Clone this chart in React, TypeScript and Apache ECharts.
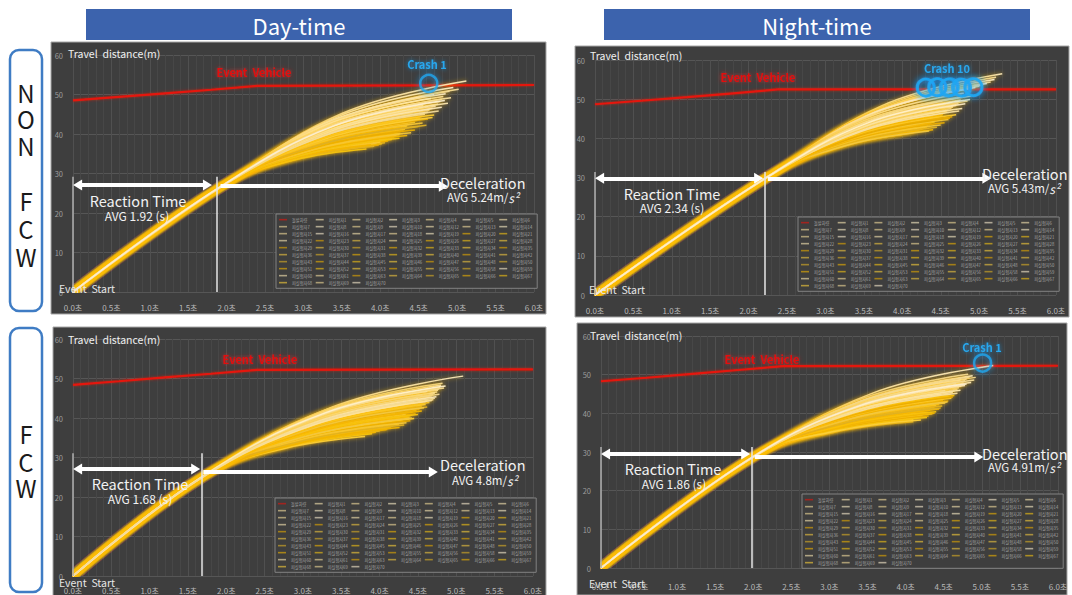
import { useEffect, useRef } from 'react';
import * as echarts from 'echarts';

const FONT = "'Noto Sans CJK KR', 'Noto Sans', sans-serif";

const EVENT_VEHICLE_NAME = '돌발차량';
const SUBJECT_PREFIX = '피실험자';
const X_UNIT = '초';
const SUBJECT_IDS = [1, 2, 3, 4, 5, 6, 7, 8, 9, 10, 12, 13, 14, 15, 16, 17, 18, 19, 20, 21, 22, 23, 24, 25, 26, 27, 28, 29, 30, 31, 32, 33, 34, 35, 36, 37, 38, 39, 40, 41, 42, 43, 44, 45, 46, 47, 48, 50, 51, 52, 53, 55, 56, 58, 59, 60, 61, 63, 64, 65, 66, 67, 68, 69, 70];

const HEADERS = ['Day-time', 'Night-time'];
const ROW_LABEL_NON_FCW = ['N', 'O', 'N', 'F', 'C', 'W'];
const ROW_LABEL_FCW = ['F', 'C', 'W'];

// event vehicle travel distance [time s, distance m]
const DAY_NON_EVENT = [[0, 48.5], [0.6, 49.4], [1.2, 50.3], [1.8, 51.2], [2.4, 52.2], [6.0, 52.4]];
const NIGHT_NON_EVENT = [[0, 48.7], [0.6, 49.6], [1.2, 50.5], [1.8, 51.5], [2.38, 52.5], [6.0, 52.5]];
const DAY_FCW_EVENT = [[0, 48.4], [0.6, 49.3], [1.2, 50.3], [1.8, 51.2], [2.4, 52.2], [6.0, 52.3]];
const NIGHT_FCW_EVENT = [[0, 48.3], [0.6, 49.2], [1.2, 50.2], [1.8, 51.2], [2.39, 52.2], [6.0, 52.3]];

// crash points [time, distance]
const DAY_NON_CRASH = [[4.63, 52.8]];
const NIGHT_NON_CRASH = [[4.3, 53.0], [4.31, 52.9], [4.45, 53.1], [4.46, 53.0], [4.6, 52.9], [4.62, 53.1], [4.76, 53.0], [4.78, 52.9], [4.92, 53.1], [4.93, 53.0]];
const DAY_FCW_CRASH: number[][] = [];
const NIGHT_FCW_CRASH = [[5.01, 53.0]];

// subject rows: [reaction t, reaction d, mid t, mid d, stop t, stop d]; each starts at (0, 0)
const DAY_NON_SUBJECTS = [
  [1.88, 26.0, 3.50, 45.2, 5.12, 53.4], [1.92, 26.6, 3.47, 43.9, 5.02, 51.3], [1.95, 27.0, 3.45, 44.4, 4.95, 51.8],
  [1.90, 26.3, 3.40, 43.5, 4.90, 50.8], [1.93, 26.8, 3.39, 43.2, 4.85, 50.2], [1.88, 26.0, 3.35, 42.5, 4.82, 49.5],
  [1.92, 26.6, 3.36, 42.1, 4.80, 48.8], [1.95, 27.0, 3.37, 41.8, 4.78, 48.2], [1.90, 26.3, 3.33, 41.2, 4.75, 47.6],
  [1.93, 26.8, 3.33, 40.9, 4.72, 47.0], [1.88, 26.0, 3.29, 42.8, 4.70, 50.0], [1.92, 26.6, 3.30, 40.5, 4.68, 46.5],
  [1.95, 27.0, 3.31, 42.4, 4.66, 49.0], [1.90, 26.3, 3.27, 40.1, 4.64, 46.0], [1.93, 26.8, 3.28, 39.9, 4.62, 45.5],
  [1.88, 26.0, 3.24, 41.4, 4.60, 48.0], [1.92, 26.6, 3.25, 39.5, 4.58, 45.0], [1.95, 27.0, 3.26, 41.1, 4.56, 47.2],
  [1.90, 26.3, 3.23, 39.0, 4.55, 44.5], [1.93, 26.8, 3.23, 38.8, 4.52, 44.0], [1.88, 26.0, 3.19, 40.1, 4.50, 46.2],
  [1.92, 26.6, 3.20, 38.4, 4.48, 43.5], [1.95, 27.0, 3.20, 38.2, 4.45, 43.0], [1.90, 26.3, 3.16, 39.7, 4.42, 45.4],
  [1.93, 26.8, 3.17, 37.8, 4.40, 42.5], [1.88, 26.0, 3.13, 39.0, 4.38, 44.6], [1.92, 26.6, 3.14, 37.4, 4.35, 42.0],
  [1.95, 27.0, 3.14, 37.2, 4.33, 41.5], [1.90, 26.3, 3.11, 36.7, 4.32, 41.2], [1.93, 26.8, 3.12, 36.6, 4.30, 40.8],
  [1.88, 26.0, 3.08, 36.9, 4.28, 41.6], [1.92, 26.6, 3.09, 36.1, 4.26, 40.2], [1.95, 27.0, 3.10, 36.0, 4.25, 39.8],
  [1.90, 26.3, 3.06, 36.2, 4.22, 40.5], [1.93, 26.8, 3.07, 35.6, 4.20, 39.4], [1.88, 26.0, 3.03, 35.1, 4.18, 39.0],
  [1.92, 26.6, 3.04, 36.0, 4.16, 40.0], [1.95, 27.0, 3.05, 35.1, 4.15, 38.6], [1.90, 26.3, 3.01, 35.3, 4.12, 39.2],
  [1.93, 26.8, 3.02, 34.8, 4.10, 38.2], [1.88, 26.0, 2.98, 35.0, 4.08, 38.8], [1.92, 26.6, 2.99, 34.4, 4.06, 37.8],
  [1.95, 27.0, 3.00, 35.0, 4.04, 38.4], [1.90, 26.3, 2.96, 34.1, 4.02, 37.5], [1.93, 26.8, 2.97, 34.6, 4.00, 38.0],
  [1.88, 26.0, 2.93, 33.8, 3.98, 37.2], [1.92, 26.6, 2.94, 34.4, 3.95, 37.7], [1.95, 27.0, 2.94, 33.9, 3.92, 36.9],
  [1.90, 26.3, 2.89, 34.0, 3.88, 37.3], [1.93, 26.8, 2.88, 33.4, 3.82, 36.2], [1.88, 26.0, 3.29, 39.2, 4.70, 44.8],
  [1.92, 26.6, 3.27, 38.6, 4.62, 43.8], [1.95, 27.0, 3.25, 38.1, 4.55, 42.8], [1.90, 26.3, 3.20, 37.2, 4.50, 41.9],
  [1.93, 26.8, 3.37, 40.8, 4.80, 46.8], [1.88, 26.0, 3.38, 41.3, 4.88, 47.8], [1.92, 26.6, 3.42, 42.4, 4.92, 49.2],
  [1.95, 27.0, 3.20, 36.8, 4.45, 41.0], [1.90, 26.3, 3.15, 36.1, 4.40, 40.3], [1.93, 26.8, 3.27, 37.6, 4.60, 42.2],
  [1.88, 26.0, 3.12, 35.5, 4.35, 39.6], [1.92, 26.6, 3.09, 35.2, 4.25, 38.9], [1.95, 27.0, 3.32, 39.0, 4.68, 44.2],
  [1.90, 26.3, 3.33, 40.0, 4.76, 45.8], [1.93, 26.8, 3.39, 42.0, 4.84, 48.5],
];

const NIGHT_NON_SUBJECTS = [
  [2.16, 29.0, 3.73, 48.3, 5.30, 56.5], [2.20, 29.6, 3.71, 47.8, 5.22, 55.6], [2.24, 30.1, 3.72, 47.5, 5.20, 55.0],
  [2.18, 29.3, 3.67, 46.9, 5.15, 54.4], [2.22, 29.9, 3.66, 46.8, 5.10, 54.0], [2.16, 29.0, 3.61, 46.2, 5.05, 53.6],
  [2.20, 29.6, 3.60, 46.2, 5.00, 53.3], [2.24, 30.1, 3.60, 46.1, 4.95, 53.0], [2.18, 29.3, 3.54, 45.8, 4.90, 52.8],
  [2.22, 29.9, 3.54, 45.8, 4.85, 52.6], [2.16, 29.0, 3.48, 44.8, 4.80, 51.5], [2.20, 29.6, 3.49, 44.3, 4.78, 50.6],
  [2.24, 30.1, 3.50, 43.9, 4.76, 49.8], [2.18, 29.3, 3.47, 43.2, 4.75, 49.2], [2.22, 29.9, 3.48, 43.1, 4.73, 48.8],
  [2.16, 29.0, 3.43, 42.6, 4.70, 48.4], [2.20, 29.6, 3.44, 44.0, 4.68, 50.2], [2.24, 30.1, 3.45, 42.6, 4.66, 48.0],
  [2.18, 29.3, 3.41, 42.1, 4.64, 47.6], [2.22, 29.9, 3.42, 43.3, 4.62, 49.0], [2.16, 29.0, 3.38, 41.7, 4.60, 47.2],
  [2.20, 29.6, 3.39, 41.7, 4.58, 46.9], [2.24, 30.1, 3.40, 41.6, 4.56, 46.5], [2.18, 29.3, 3.37, 42.5, 4.55, 48.2],
  [2.22, 29.9, 3.38, 41.2, 4.53, 46.1], [2.16, 29.0, 3.34, 40.7, 4.52, 45.7], [2.20, 29.6, 3.35, 41.8, 4.50, 47.0],
  [2.24, 30.1, 3.36, 40.7, 4.48, 45.3], [2.18, 29.3, 3.32, 40.2, 4.46, 44.9], [2.22, 29.9, 3.34, 41.5, 4.45, 46.4],
  [2.16, 29.0, 3.30, 39.9, 4.43, 44.6], [2.20, 29.6, 3.31, 39.8, 4.42, 44.2], [2.24, 30.1, 3.32, 41.1, 4.40, 45.8],
  [2.18, 29.3, 3.28, 39.5, 4.38, 43.9], [2.22, 29.9, 3.29, 39.4, 4.36, 43.5], [2.16, 29.0, 3.26, 40.2, 4.35, 45.0],
  [2.20, 29.6, 3.27, 39.1, 4.33, 43.2], [2.24, 30.1, 3.28, 39.1, 4.32, 42.9], [2.18, 29.3, 3.24, 39.9, 4.30, 44.4],
  [2.22, 29.9, 3.25, 38.8, 4.28, 42.6], [2.16, 29.0, 3.21, 38.3, 4.26, 42.3], [2.20, 29.6, 3.23, 39.5, 4.25, 43.8],
  [2.24, 30.1, 3.23, 38.4, 4.22, 42.0], [2.18, 29.3, 3.19, 38.1, 4.20, 41.8], [2.22, 29.9, 3.20, 39.1, 4.18, 43.0],
  [2.16, 29.0, 3.16, 37.8, 4.15, 41.5], [2.20, 29.6, 3.16, 38.6, 4.12, 42.4], [2.24, 30.1, 3.17, 37.9, 4.10, 41.3],
  [2.18, 29.3, 3.12, 38.0, 4.05, 41.7], [2.22, 29.9, 3.11, 37.7, 4.00, 41.0], [2.16, 29.0, 3.43, 40.9, 4.70, 46.0],
  [2.20, 29.6, 3.43, 40.7, 4.65, 45.5], [2.24, 30.1, 3.42, 40.4, 4.60, 44.8], [2.18, 29.3, 3.52, 43.4, 4.85, 49.5],
  [2.22, 29.9, 3.52, 43.1, 4.82, 48.8], [2.16, 29.0, 3.47, 42.0, 4.78, 47.6], [2.20, 29.6, 3.47, 41.8, 4.74, 47.0],
  [2.24, 30.1, 3.40, 39.8, 4.55, 44.0], [2.18, 29.3, 3.34, 39.2, 4.50, 43.4], [2.22, 29.9, 3.34, 38.9, 4.45, 42.8],
  [2.16, 29.0, 3.28, 38.2, 4.40, 42.2], [2.20, 29.6, 3.55, 44.4, 4.90, 50.8], [2.24, 30.1, 3.56, 44.0, 4.88, 49.9],
  [2.18, 29.3, 3.40, 40.4, 4.62, 45.2], [2.22, 29.9, 3.29, 38.3, 4.35, 41.9],
];

const DAY_FCW_SUBJECTS = [
  [1.64, 24.4, 3.37, 42.7, 5.09, 50.6], [1.68, 25.0, 3.25, 41.7, 4.82, 48.8], [1.71, 25.5, 3.26, 41.5, 4.80, 48.3],
  [1.66, 24.7, 3.23, 40.9, 4.79, 47.8], [1.70, 25.2, 3.24, 40.7, 4.77, 47.3], [1.64, 24.4, 3.20, 40.2, 4.76, 47.0],
  [1.68, 25.0, 3.22, 40.1, 4.75, 46.6], [1.71, 25.5, 3.22, 40.1, 4.72, 46.3], [1.66, 24.7, 3.18, 39.6, 4.70, 46.0],
  [1.70, 25.2, 3.19, 39.5, 4.68, 45.6], [1.64, 24.4, 3.15, 40.6, 4.66, 47.5], [1.68, 25.0, 3.16, 39.1, 4.64, 45.2],
  [1.71, 25.5, 3.17, 40.4, 4.62, 46.8], [1.66, 24.7, 3.13, 38.8, 4.60, 44.8], [1.70, 25.2, 3.15, 38.5, 4.60, 44.2],
  [1.64, 24.4, 3.11, 37.8, 4.58, 43.6], [1.68, 25.0, 3.12, 39.6, 4.56, 45.9], [1.71, 25.5, 3.13, 37.8, 4.55, 43.0],
  [1.66, 24.7, 3.09, 37.2, 4.52, 42.5], [1.70, 25.2, 3.10, 39.1, 4.50, 45.0], [1.64, 24.4, 3.06, 36.7, 4.48, 42.0],
  [1.68, 25.0, 3.08, 36.3, 4.47, 41.1], [1.71, 25.5, 3.08, 38.5, 4.45, 44.0], [1.66, 24.7, 3.05, 36.5, 4.43, 41.5],
  [1.70, 25.2, 3.05, 36.0, 4.40, 40.6], [1.64, 24.4, 3.02, 35.5, 4.39, 40.2], [1.68, 25.0, 3.03, 37.7, 4.38, 43.2],
  [1.71, 25.5, 3.04, 35.5, 4.36, 39.8], [1.66, 24.7, 3.00, 36.0, 4.34, 40.9], [1.70, 25.2, 3.01, 34.7, 4.31, 38.7],
  [1.64, 24.4, 2.97, 34.9, 4.30, 39.4], [1.68, 25.0, 2.98, 35.8, 4.28, 40.4], [1.71, 25.5, 2.98, 34.5, 4.25, 38.4],
  [1.66, 24.7, 2.94, 34.7, 4.22, 39.0], [1.70, 25.2, 2.95, 36.3, 4.20, 41.1], [1.64, 24.4, 2.91, 34.0, 4.18, 38.1],
  [1.68, 25.0, 2.92, 33.9, 4.15, 37.7], [1.71, 25.5, 2.92, 34.6, 4.12, 38.5], [1.66, 24.7, 2.88, 33.5, 4.10, 37.3],
  [1.70, 25.2, 2.90, 33.5, 4.09, 37.0], [1.64, 24.4, 2.85, 33.9, 4.05, 37.9], [1.68, 25.0, 2.84, 33.2, 4.00, 36.7],
  [1.71, 25.5, 2.83, 33.1, 3.95, 36.4], [1.66, 24.7, 2.78, 32.6, 3.90, 36.0], [1.70, 25.2, 2.76, 32.3, 3.81, 35.3],
  [1.64, 24.4, 3.17, 38.5, 4.70, 44.6], [1.68, 25.0, 3.17, 38.2, 4.65, 43.9], [1.71, 25.5, 3.17, 37.6, 4.62, 42.8],
  [1.66, 24.7, 3.11, 36.7, 4.55, 41.8], [1.70, 25.2, 3.10, 36.2, 4.50, 40.9], [1.64, 24.4, 3.05, 35.3, 4.45, 39.9],
  [1.68, 25.0, 3.04, 35.0, 4.40, 39.3], [1.71, 25.5, 3.03, 34.8, 4.35, 38.8], [1.66, 24.7, 3.22, 39.6, 4.78, 46.0],
  [1.70, 25.2, 3.22, 39.3, 4.74, 45.4], [1.64, 24.4, 3.16, 38.4, 4.68, 44.4], [1.68, 25.0, 3.14, 37.9, 4.60, 43.4],
  [1.71, 25.5, 3.12, 37.2, 4.52, 42.2], [1.66, 24.7, 3.04, 35.4, 4.42, 40.0], [1.70, 25.2, 3.01, 34.3, 4.32, 38.2],
  [1.64, 24.4, 2.95, 33.6, 4.26, 37.6], [1.68, 25.0, 3.26, 40.8, 4.84, 47.6], [1.71, 25.5, 3.29, 41.3, 4.86, 48.1],
  [1.66, 24.7, 3.19, 38.9, 4.72, 45.0], [1.70, 25.2, 3.14, 37.4, 4.58, 42.6],
];

const NIGHT_FCW_SUBJECTS = [
  [1.94, 27.9, 3.55, 45.1, 5.15, 52.4], [1.98, 28.5, 3.45, 43.1, 4.92, 49.3], [2.01, 29.0, 3.45, 43.5, 4.88, 49.7],
  [1.96, 28.2, 3.39, 43.5, 4.82, 50.1], [2.00, 28.8, 3.40, 42.9, 4.80, 48.9], [1.94, 27.9, 3.36, 42.3, 4.78, 48.4],
  [1.98, 28.5, 3.37, 42.1, 4.76, 47.9], [2.01, 29.0, 3.38, 41.9, 4.75, 47.4], [1.96, 28.2, 3.35, 41.4, 4.73, 47.0],
  [2.00, 28.8, 3.36, 42.7, 4.72, 48.6], [1.94, 27.9, 3.32, 41.0, 4.70, 46.6], [1.98, 28.5, 3.33, 40.9, 4.68, 46.2],
  [2.01, 29.0, 3.34, 42.2, 4.66, 47.8], [1.96, 28.2, 3.30, 40.5, 4.64, 45.8], [2.00, 28.8, 3.31, 40.4, 4.62, 45.4],
  [1.94, 27.9, 3.27, 39.8, 4.60, 44.9], [1.98, 28.5, 3.28, 41.4, 4.58, 46.9], [2.01, 29.0, 3.29, 39.9, 4.56, 44.5],
  [1.96, 28.2, 3.25, 39.3, 4.54, 44.1], [2.00, 28.8, 3.26, 40.8, 4.52, 45.9], [1.94, 27.9, 3.22, 39.0, 4.50, 43.7],
  [1.98, 28.5, 3.24, 38.9, 4.49, 43.4], [2.01, 29.0, 3.24, 40.2, 4.47, 45.0], [1.96, 28.2, 3.21, 38.6, 4.45, 43.0],
  [2.00, 28.8, 3.22, 38.3, 4.44, 42.3], [1.94, 27.9, 3.18, 39.4, 4.42, 44.3], [1.98, 28.5, 3.19, 38.0, 4.40, 42.0],
  [2.01, 29.0, 3.20, 37.8, 4.38, 41.6], [1.96, 28.2, 3.16, 38.8, 4.36, 43.3], [2.00, 28.8, 3.17, 37.5, 4.34, 41.2],
  [1.94, 27.9, 3.13, 36.9, 4.32, 40.8], [1.98, 28.5, 3.14, 38.3, 4.30, 42.5], [2.01, 29.0, 3.15, 36.8, 4.29, 40.2],
  [1.96, 28.2, 3.11, 36.3, 4.26, 39.8], [2.00, 28.8, 3.12, 37.6, 4.24, 41.4], [1.94, 27.9, 3.08, 36.0, 4.22, 39.5],
  [1.98, 28.5, 3.09, 35.9, 4.20, 39.1], [2.01, 29.0, 3.10, 37.1, 4.18, 40.6], [1.96, 28.2, 3.06, 35.6, 4.15, 38.8],
  [2.00, 28.8, 3.06, 36.4, 4.12, 39.6], [1.94, 27.9, 3.02, 35.3, 4.10, 38.4], [1.98, 28.5, 3.04, 35.0, 4.10, 37.8],
  [2.01, 29.0, 3.04, 35.4, 4.06, 38.2], [1.96, 28.2, 3.30, 39.7, 4.64, 44.6], [2.00, 28.8, 3.30, 39.4, 4.60, 43.9],
  [1.94, 27.9, 3.25, 38.6, 4.56, 43.2], [1.98, 28.5, 3.25, 38.4, 4.52, 42.7], [2.01, 29.0, 3.25, 38.0, 4.48, 41.9],
  [1.96, 28.2, 3.20, 37.2, 4.44, 41.1], [2.00, 28.8, 3.20, 36.9, 4.40, 40.4], [1.94, 27.9, 3.15, 36.3, 4.35, 39.9],
  [1.98, 28.5, 3.14, 36.1, 4.30, 39.3], [2.01, 29.0, 3.44, 42.3, 4.86, 48.0], [1.96, 28.2, 3.40, 43.0, 4.84, 49.4],
  [2.00, 28.8, 3.39, 41.7, 4.78, 47.2], [1.94, 27.9, 3.33, 40.6, 4.72, 46.0], [1.98, 28.5, 3.33, 40.2, 4.68, 45.2],
  [2.01, 29.0, 3.32, 39.6, 4.62, 44.2], [1.96, 28.2, 3.26, 38.5, 4.55, 42.9], [2.00, 28.8, 3.23, 37.6, 4.46, 41.4],
  [1.94, 27.9, 3.16, 36.4, 4.38, 40.0], [1.98, 28.5, 3.13, 35.8, 4.28, 38.9], [2.01, 29.0, 3.11, 35.5, 4.20, 38.3],
  [1.96, 28.2, 3.43, 42.5, 4.90, 48.6], [2.00, 28.8, 3.40, 42.0, 4.80, 47.6],
];

// ---------- layout / style config ----------
const RED = '#e5140c';
const CREAM = ['#fbe9b4', '#f7e0a0', '#fff1c9', '#f3dc9a', '#fcefd0'];
const GOLD = ['#f0b400', '#f6c412', '#fcd03a', '#e6aa00', '#f2c840', '#ddb024'];
const PANEL_BG = '#3e3e3e';

const PANELS = [
  {
    subjects: DAY_NON_SUBJECTS, event: DAY_NON_EVENT, crash: DAY_NON_CRASH, crashLabel: 'Crash 1',
    reactionAvg: 'AVG 1.92 (s)', decelAvg: '5.24',
    box: [51, 42, 495, 272], grid: [73, 55, 461, 237], xMargin: 11, legend: [276, 214],
    marks: { top: 29.2, rt: 1.87, reactY: 27.1, reactTo: 1.75, decelFrom: 1.92, decelTo: 4.82, decelY: 26.8 },
    txt: { travel: [68, 53], event: [254, 72], crash: [427, 64], react: [138, 200], reactAvg: [137, 215], decel: [440, 182], decelAvg: [447, 197], start: [59, 288] },
    creamFrom: 45,
  },
  {
    subjects: NIGHT_NON_SUBJECTS, event: NIGHT_NON_EVENT, crash: NIGHT_NON_CRASH, crashLabel: 'Crash 10',
    reactionAvg: 'AVG 2.34 (s)', decelAvg: '5.43',
    box: [575, 46, 494, 271], grid: [595, 60, 461, 235], xMargin: 11, legend: [798, 217],
    marks: { top: 31.4, rt: 2.21, reactY: 29.8, reactTo: 2.13, decelFrom: 2.25, decelTo: 5.1, decelY: 29.8 },
    txt: { travel: [590, 55], event: [758, 77], crash: [947, 68], react: [672, 193], reactAvg: [672, 207], decel: [982, 173], decelAvg: [988, 188], start: [589, 289] },
    creamFrom: 47,
  },
  {
    subjects: DAY_FCW_SUBJECTS, event: DAY_FCW_EVENT, crash: DAY_FCW_CRASH, crashLabel: '',
    reactionAvg: 'AVG 1.68 (s)', decelAvg: '4.8',
    box: [53, 327, 493, 275], grid: [73, 339, 460, 237], xMargin: 10, legend: [275, 498],
    marks: { top: 31.1, rt: 1.68, reactY: 27.1, reactTo: 1.6, decelFrom: 1.7, decelTo: 4.7, decelY: 26.3 },
    txt: { travel: [68, 339], event: [260, 359], crash: [0, 0], react: [140, 483], reactAvg: [140, 498], decel: [440, 464], decelAvg: [452, 480], start: [59, 582] },
    creamFrom: 44,
  },
  {
    subjects: NIGHT_FCW_SUBJECTS, event: NIGHT_FCW_EVENT, crash: NIGHT_FCW_CRASH, crashLabel: 'Crash 1',
    reactionAvg: 'AVG 1.86 (s)', decelAvg: '4.91',
    box: [577, 323, 490, 272], grid: [601, 336, 457, 232], xMargin: 14, legend: [802, 494],
    marks: { top: 31.3, rt: 1.98, reactY: 29.5, reactTo: 1.9, decelFrom: 2.02, decelTo: 4.96, decelY: 28.7 },
    txt: { travel: [590, 335], event: [762, 359], crash: [982, 347], react: [673, 468], reactAvg: [674, 483], decel: [982, 453], decelAvg: [988, 467], start: [589, 583] },
    creamFrom: 45,
  },
];

function text(str: string, x: number, y: number, o: any = {}) {
  return {
    type: 'text', x, y, z: 100, silent: true,
    style: {
      text: str, fill: o.fill || '#eeeeee', fontSize: o.size || 11, fontWeight: o.weight || 'normal',
      fontFamily: FONT, textAlign: o.align || 'left', textVerticalAlign: 'middle',
      ...(o.extra || {}),
    },
  };
}

function buildOption() {
  const grid: any[] = [];
  const xAxis: any[] = [];
  const yAxis: any[] = [];
  const series: any[] = [];
  const legend: any[] = [];
  const graphic: any[] = [];

  HEADERS.forEach((h, i) => {
    const x = i === 0 ? 86 : 604;
    graphic.push({ type: 'rect', z: 1, silent: true, shape: { x, y: 9, width: 426, height: 31 }, style: { fill: '#3c63ad' } });
    graphic.push(text(h, x + 213, 25, { size: 22, fill: '#ffffff', align: 'center' }));
  });
  graphic.push({ type: 'rect', z: 1, silent: true, shape: { x: 10, y: 50, width: 32, height: 261, r: 9 }, style: { fill: '#fff', stroke: '#3f7cc4', lineWidth: 2.5 } });
  graphic.push({ type: 'rect', z: 1, silent: true, shape: { x: 10, y: 328, width: 32, height: 264, r: 9 }, style: { fill: '#fff', stroke: '#3f7cc4', lineWidth: 2.5 } });
  const nonY = [92, 118, 145, 200, 228, 256];
  ROW_LABEL_NON_FCW.forEach((c, i) => graphic.push(text(c, 26, nonY[i], { size: 24, fill: '#1a1a1a', align: 'center' })));
  const fcwY = [433, 461, 487];
  ROW_LABEL_FCW.forEach((c, i) => graphic.push(text(c, 26, fcwY[i], { size: 24, fill: '#1a1a1a', align: 'center' })));

  PANELS.forEach((p, k) => {
    const [bx, by, bw, bh] = p.box;
    graphic.push({ type: 'rect', z: -10, silent: true, shape: { x: bx, y: by, width: bw, height: bh }, style: { fill: PANEL_BG, stroke: '#a6a6a6', lineWidth: 1 } });

    grid.push({ left: p.grid[0], top: p.grid[1], width: p.grid[2], height: p.grid[3], containLabel: false });
    xAxis.push({
      type: 'value', gridIndex: k, min: 0, max: 6, interval: 0.5,
      axisLine: { show: false }, axisTick: { show: false },
      axisLabel: { color: '#b8b8b8', fontSize: 8, margin: p.xMargin, fontFamily: FONT, formatter: (v: number) => v.toFixed(1) + X_UNIT },
      splitLine: { show: true, lineStyle: { color: '#505050', width: 1 } },
      minorTick: { show: false, splitNumber: 5 },
      minorSplitLine: { show: true, lineStyle: { color: '#474747', width: 1 } },
    });
    yAxis.push({
      type: 'value', gridIndex: k, min: 0, max: 60, interval: 10,
      axisLine: { show: false }, axisTick: { show: false },
      axisLabel: { color: '#9c9c9c', fontSize: 7.5, margin: 10, fontFamily: FONT },
      splitLine: { show: true, lineStyle: { color: '#565656', width: 1 } },
    });

    const m = p.marks;
    const head = { symbol: 'triangle', symbolSize: [11, 9] };
    series.push({
      type: 'line', name: EVENT_VEHICLE_NAME, xAxisIndex: k, yAxisIndex: k, data: p.event,
      symbol: 'none', z: 3, color: RED, itemStyle: { color: RED },
      lineStyle: { color: RED, width: 2.2, shadowBlur: 3, shadowColor: 'rgba(255,30,0,0.55)' },
      emphasis: { disabled: true },
      markLine: {
        silent: true, symbol: ['none', 'none'], label: { show: false }, emphasis: { disabled: true },
        lineStyle: { color: '#ffffff', width: 4, type: 'solid', opacity: 1 },
        data: [
          [{ coord: [0, 0], lineStyle: { width: 1.5, color: '#b0b0b0' } }, { coord: [0, m.top] }],
          [{ coord: [m.rt, 0], lineStyle: { width: 1.5, color: '#e6e6e6' } }, { coord: [m.rt, m.top] }],
          [{ coord: [0.06, m.reactY], ...head }, { coord: [m.reactTo, m.reactY], ...head }],
          [{ coord: [m.decelFrom, m.decelY] }, { coord: [m.decelTo, m.decelY], ...head }],
        ],
      },
    });

    // gold (early-stopping) subjects drawn first, cream ones on top
    const order = p.subjects.map((_, i) => i);
    const isCream = (i: number) => p.subjects[i][5] >= p.creamFrom;
    order.sort((a, b) => (isCream(a) ? 1 : 0) - (isCream(b) ? 1 : 0) || a - b);
    order.forEach((i) => {
      const row = p.subjects[i];
      const c = isCream(i) ? CREAM[i % CREAM.length] : GOLD[i % GOLD.length];
      series.push({
        type: 'line', name: SUBJECT_PREFIX + SUBJECT_IDS[i], xAxisIndex: k, yAxisIndex: k,
        data: [[0, 0], [row[0], row[1]], [row[2], row[3]], [row[4], row[5]]],
        smooth: 0.4, symbol: 'none', z: 4, color: c, itemStyle: { color: c },
        lineStyle: { color: c, width: 1.5, opacity: 0.95, shadowBlur: 4, shadowColor: 'rgba(255,190,0,0.7)' },
        emphasis: { disabled: true },
      });
    });

    if (p.crash.length) {
      series.push({
        type: 'scatter', name: 'crash', xAxisIndex: k, yAxisIndex: k, data: p.crash, z: 6,
        symbol: 'circle', symbolSize: 17, silent: true,
        itemStyle: { color: 'rgba(0,0,0,0)', borderColor: '#1ea7f0', borderWidth: 2.5, shadowBlur: 6, shadowColor: '#1a9cff' },
        emphasis: { disabled: true },
      });
    }

    legend.push({
      left: p.legend[0], top: p.legend[1], width: 258, orient: 'horizontal', padding: [3, 3, 3, 3],
      itemGap: 1.7, itemWidth: 8, itemHeight: 1.6, icon: 'rect', selectedMode: false,
      backgroundColor: PANEL_BG, borderColor: '#828282', borderWidth: 1,
      itemStyle: { opacity: 0.6 },
      textStyle: { color: '#a6a6a6', fontSize: 4.2, lineHeight: 5.3, width: 22, overflow: 'truncate', ellipsis: '', backgroundColor: 'rgba(0,0,0,0)', fontFamily: FONT },
      data: [EVENT_VEHICLE_NAME, ...SUBJECT_IDS.map((id) => SUBJECT_PREFIX + id)],
    });

    const t = p.txt;
    graphic.push(text('Travel  distance(m)', t.travel[0], t.travel[1], { size: 10.5, fill: '#f0f0f0' }));
    graphic.push(text('Event  Vehicle', t.event[0], t.event[1], { size: 11, weight: 'bold', fill: '#e41010', align: 'center', extra: { textShadowBlur: 4, textShadowColor: 'rgba(255,40,40,0.7)' } }));
    if (p.crashLabel) {
      graphic.push(text(p.crashLabel, t.crash[0], t.crash[1], { size: 11, weight: 'bold', fill: '#28a8ee', align: 'center', extra: { textShadowBlur: 4, textShadowColor: 'rgba(30,160,255,0.7)' } }));
    }
    graphic.push(text('Reaction Time', t.react[0], t.react[1], { size: 14.5, fill: '#f2f2f2', align: 'center' }));
    graphic.push(text(p.reactionAvg, t.reactAvg[0], t.reactAvg[1], { size: 12, fill: '#f2f2f2', align: 'center' }));
    graphic.push(text('Deceleration', t.decel[0], t.decel[1], { size: 14.5, fill: '#f2f2f2' }));
    graphic.push(text('AVG ' + p.decelAvg + 'm/{i|s²}', t.decelAvg[0], t.decelAvg[1], {
      size: 11.5, fill: '#f2f2f2',
      extra: { rich: { i: { fontStyle: 'italic', fontSize: 12, fill: '#f2f2f2', fontFamily: FONT } } },
    }));
    graphic.push(text('Event  Start', t.start[0], t.start[1], { size: 10.5, fill: '#e6e6e6' }));
  });

  return {
    animation: false,
    backgroundColor: '#ffffff',
    textStyle: { fontFamily: FONT },
    grid, xAxis, yAxis, series, legend, graphic,
  };
}

export default function App() {
  const ref = useRef<HTMLDivElement>(null);
  useEffect(() => {
    const chart = echarts.init(ref.current!, undefined, { renderer: 'svg' });
    chart.setOption(buildOption() as any);
    return () => chart.dispose();
  }, []);
  return <div ref={ref} style={{ position: 'absolute', left: 0, top: 0, width: 1072, height: 595, background: '#fff' }} />;
}
